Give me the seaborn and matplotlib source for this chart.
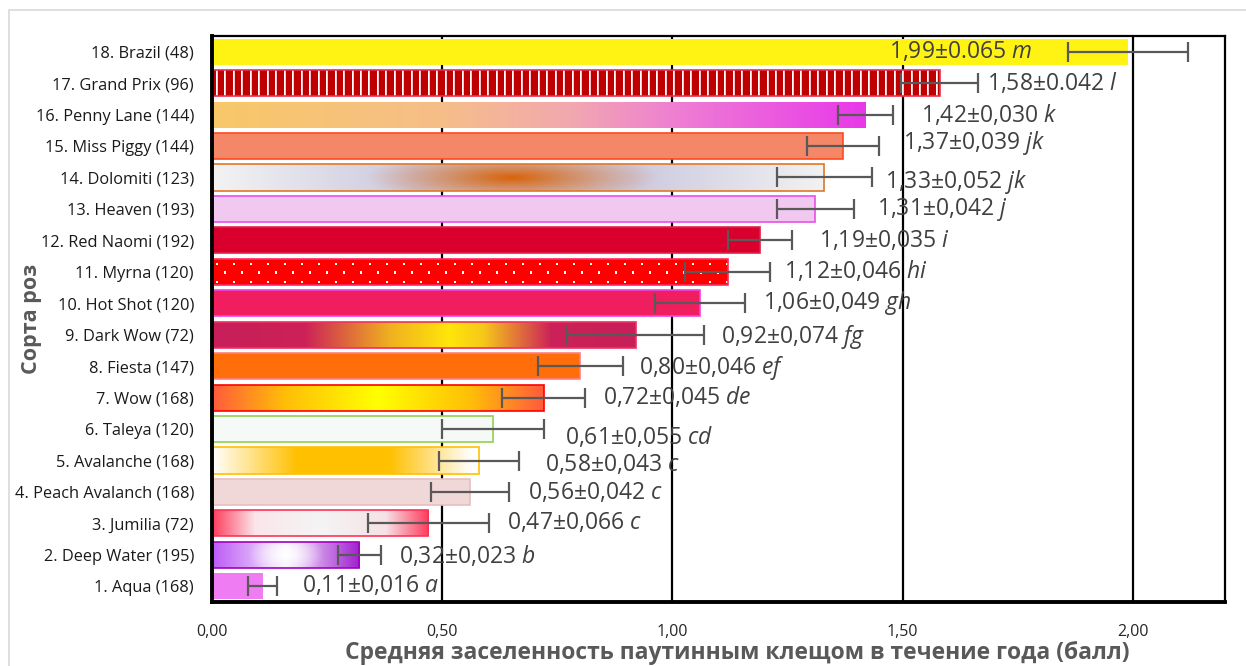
import numpy as np
import pandas as pd
import matplotlib
matplotlib.use("Agg")
import matplotlib.pyplot as plt
import seaborn as sns
from matplotlib.colors import to_rgb
from matplotlib.patches import Rectangle

# ---- data, listed from the top row of the chart downwards ----
numbers = [18, 17, 16, 15, 14, 13, 12, 11, 10, 9, 8, 7, 6, 5, 4, 3, 2, 1]
varieties = ["Brazil", "Grand Prix", "Penny Lane", "Miss Piggy", "Dolomiti", "Heaven",
             "Red Naomi", "Myrna", "Hot Shot", "Dark Wow", "Fiesta", "Wow", "Taleya",
             "Avalanche", "Peach Avalanch", "Jumilia", "Deep Water", "Aqua"]
sample_sizes = [48, 96, 144, 144, 123, 193, 192, 120, 120, 72, 147, 168, 120, 168, 168, 72, 195, 168]
means = [1.99, 1.58, 1.42, 1.37, 1.33, 1.31, 1.19, 1.12, 1.06, 0.92, 0.80, 0.72, 0.61,
         0.58, 0.56, 0.47, 0.32, 0.11]
se_text = ["0.065", "0.042", "0,030", "0,039", "0,052", "0,042", "0,035", "0,046", "0,049",
           "0,074", "0,046", "0,045", "0,055", "0,043", "0,042", "0,066", "0,023", "0,016"]
letters = ["m", "l", "k", "jk", "jk", "j", "i", "hi", "gh", "fg", "ef", "de", "cd",
           "c", "c", "c", "b", "a"]
x_ticks = [0.0, 0.5, 1.0, 1.5, 2.0]
x_title = "Средняя заселенность паутинным клещом в течение года (балл)"
y_title = "Сорта роз"

se = [float(s.replace(",", ".")) for s in se_text]
labels = [f"{n}. {v} ({k})" for n, v, k in zip(numbers, varieties, sample_sizes)]

# ---- bar styling: fill, outline and texture for each variety ----
styles = {
    "Brazil":         dict(fill="#FFF314"),
    "Grand Prix":     dict(fill="#C00000", edge="#E8304A", texture="stripes"),
    "Penny Lane":     dict(fill="#F2A8B0", grad=[(0, "#F8C868"), (0.35, "#F6BE88"), (0.55, "#F2A8B0"),
                                                  (0.72, "#EE7CD4"), (1, "#E838EA")]),
    "Miss Piggy":     dict(fill="#F38767", edge="#FF4A1C"),
    "Dolomiti":       dict(fill="#D8D4E4", edge="#E07828",
                           grad=[(0, "#F3F3F3"), (0.33, "#CCC8DE"), (0.68, "#CCC8DE"), (1, "#F2F2F2")],
                           blob=(0.49, 0.24, 0.95, "#D8640C", 1.1)),
    "Heaven":         dict(fill="#F0C8F0", edge="#E850E8"),
    "Red Naomi":      dict(fill="#D9002D", edge="#E0204A"),
    "Myrna":          dict(fill="#FF0000", edge="#FF2A60", texture="dots"),
    "Hot Shot":       dict(fill="#F01E5E", edge="#F040E8"),
    "Dark Wow":       dict(fill="#C8205A", edge="#F03060",
                           grad=[(0, "#C81E5A"), (0.22, "#CC2258"), (0.42, "#F0B020"), (0.56, "#FFE60A"),
                                 (0.64, "#F6C81A"), (0.80, "#CC2258"), (1, "#C81E5A")]),
    "Fiesta":         dict(fill="#FF6E0A", edge="#FF8080"),
    "Wow":            dict(fill="#FFC000", edge="#FF0000",
                           grad=[(0, "#FF5A3C"), (0.22, "#FFBE08"), (0.5, "#FFFF00"), (0.78, "#FFBE08"),
                                 (1, "#FF5A3C")]),
    "Taleya":         dict(fill="#F6FAF6", edge="#92D050"),
    "Avalanche":      dict(fill="#FFC000", edge="#FFC000",
                           grad=[(0, "#FFFFFF"), (0.32, "#FFC000"), (0.66, "#FFC000"), (0.97, "#FFFFFF"),
                                 (1, "#FFFFFF")]),
    "Peach Avalanch": dict(fill="#F0D8D8", edge="#E8BEBE"),
    "Jumilia":        dict(fill="#F6F6F6", edge="#FF3355",
                           grad=[(0, "#FF3A5C"), (0.2, "#FBE6EA"), (0.5, "#F4F4F4"), (0.8, "#F6E2E6"),
                                 (1, "#FF3A5C")]),
    "Deep Water":     dict(fill="#D8A0F4", edge="#A000C0",
                           grad=[(0, "#BC58F6"), (0.5, "#F6ECFC"), (1, "#A020D0")],
                           blob=(0.5, 0.25, 0.8, "#FFFFFF", 1.0)),
    "Aqua":           dict(fill="#F07CF4"),
}

# label placement nudges in pixels: gap after the error bar, and vertical shift (down)
label_gap = [-36, 9, 28, 24, 13, 23, 27, 14, 18, 17, 16, 18, 21, 26, 19, 18, 18, 25]
label_drop = [0, 0, 1, -3, 4, 1, 1, 0, 0, 2, 2, 0, 8, 5, 1, 0, 2, 0]

sns.set_style("white")
plt.rcParams["font.family"] = ["Open Sans", "DejaVu Sans"]
plt.rcParams["mathtext.fontset"] = "custom"
plt.rcParams["mathtext.rm"] = "Open Sans"
plt.rcParams["mathtext.it"] = "Open Sans:italic"

W_PX, H_PX = 1246, 666
fig = plt.figure(figsize=(W_PX / 100, H_PX / 100), dpi=100)
ax = fig.add_axes([212 / W_PX, 1 - 602 / H_PX, (1225 - 212) / W_PX, (602 - 36) / H_PX])

df = pd.DataFrame({"label": labels, "mean": means})
palette = {lab: styles[v]["fill"] for lab, v in zip(labels, varieties)}
sns.barplot(data=df, x="mean", y="label", hue="label", order=labels, hue_order=labels,
            palette=palette, saturation=1, width=0.83, orient="h", errorbar=None,
            legend=False, ax=ax)

ax.set_xlim(0, 2.2)
ax.set_ylim(len(labels) - 0.5, -0.5)


def gradient(w, h, stops):
    xs = (np.arange(w) + 0.5) / w
    pos = [s[0] for s in stops]
    cols = np.array([to_rgb(s[1]) for s in stops])
    row = np.stack([np.interp(xs, pos, cols[:, k]) for k in range(3)], axis=-1)
    return np.repeat(row[None, :, :], h, axis=0)


def add_blob(img, cx, rx, ry, color, power):
    h, w = img.shape[:2]
    xs = (np.arange(w) + 0.5) / w
    ys = (np.arange(h) + 0.5) / h
    d = np.sqrt(((xs[None, :] - cx) / rx) ** 2 + ((ys[:, None] - 0.5) / ry) ** 2)
    a = np.clip(1 - d, 0, 1) ** power
    return img * (1 - a[..., None]) + np.array(to_rgb(color)) * a[..., None]


def texture(w, h, kind, base):
    img = np.ones((h, w, 3)) * np.array(to_rgb(base))
    yy, xx = np.mgrid[0:h, 0:w]
    if kind == "stripes":
        phase = (xx - 3.5) % 8.47
        img[phase < 1.0] = to_rgb("#FFFFFF")
        img[(phase >= 1.0) & (phase < 2.0)] = to_rgb("#F4C8CC")
    elif kind == "dots":
        row = np.floor((yy - 4.5) / 8.3)
        on_row = ((yy - 4.5) % 8.3) < 2
        on_col = ((xx - 3.5 - (row % 2) * 8.5) % 17) < 2
        img[on_row & on_col] = to_rgb("#FFFFFF")
    return img


bars = sorted(ax.patches, key=lambda p: p.get_y())
for i, p in enumerate(bars):
    st = styles[varieties[i]]
    x0, y0, w, h = p.get_x(), p.get_y(), p.get_width(), p.get_height()
    (px0, py0), (px1, py1) = ax.transData.transform([(x0, y0), (x0 + w, y0 + h)])
    wpx, hpx = max(int(round(abs(px1 - px0))), 1), max(int(round(abs(py1 - py0))), 1)
    img = None
    if "grad" in st:
        img = gradient(wpx, hpx, st["grad"])
        if "blob" in st:
            img = add_blob(img, *st["blob"])
    elif "texture" in st:
        img = texture(wpx, hpx, st["texture"], st["fill"])
    p.set_zorder(2)
    if img is not None:
        im = ax.imshow(np.clip(img, 0, 1), extent=(x0, x0 + w, y0 + h, y0), origin="upper",
                       aspect="auto", interpolation="nearest", zorder=1.8)
        im.set_clip_path(p)
        p.set_facecolor("none")
    if "edge" in st:
        p.set_edgecolor(st["edge"])
        p.set_linewidth(1.2)
    else:
        p.set_linewidth(0)

ax.set_aspect("auto")
ax.set_xlim(0, 2.2)
ax.set_ylim(len(labels) - 0.5, -0.5)

# error bars: two standard errors either side of the mean
ypos = [b.get_y() + b.get_height() / 2 for b in bars]
ax.errorbar(means, ypos, xerr=[2 * s for s in se], fmt="none", ecolor="#595959",
            elinewidth=1.6, capsize=7.5, capthick=1.6, zorder=4)

# value labels: mean ± SE and significance letters
for i, (m, s, st, let) in enumerate(zip(means, se, se_text, letters)):
    txt = f"{m:.2f}".replace(".", ",") + "±" + st + " $\\mathit{" + let + "}$"
    if label_gap[i] < 0:
        xy, ha = (m - 2 * s, ypos[i]), "right"
    else:
        xy, ha = (m + 2 * s, ypos[i]), "left"
    ax.annotate(txt, xy=xy, xytext=(label_gap[i], -label_drop[i]), textcoords="offset pixels",
                ha=ha, va="center", fontsize=16.5, color="#404040", zorder=5)

# axes styling
ax.set_xticks(x_ticks)
ax.set_xticklabels([f"{t:.2f}".replace(".", ",") for t in x_ticks])
ax.xaxis.grid(True, color="black", linewidth=1.6)
ax.yaxis.grid(False)
ax.set_axisbelow(True)
ax.tick_params(axis="x", length=0, pad=16, labelsize=11.5, labelcolor="#262626")
ax.tick_params(axis="y", length=0, pad=13, labelsize=11.8, labelcolor="#1A1A1A")
for side, lw in (("left", 2.8), ("bottom", 2.8), ("top", 1.6), ("right", 1.6)):
    ax.spines[side].set_visible(True)
    ax.spines[side].set_color("black")
    ax.spines[side].set_linewidth(lw)

ax.set_xlabel(x_title, fontsize=16.5, fontweight="bold", color="#595959")
ax.set_ylabel(y_title, fontsize=15.5, fontweight="bold", color="#595959")
ax.xaxis.set_label_coords(0.519, -0.068)
ax.yaxis.set_label_coords(-0.168, 0.5)

# light chart-area border
fig.patches.append(Rectangle((9 / W_PX, -0.05), 1.2, 1 - 10 / H_PX + 0.05, transform=fig.transFigure,
                             fill=False, edgecolor="#D9D9D9", linewidth=1.2))

fig.savefig("out.png", dpi=100, facecolor="white")
